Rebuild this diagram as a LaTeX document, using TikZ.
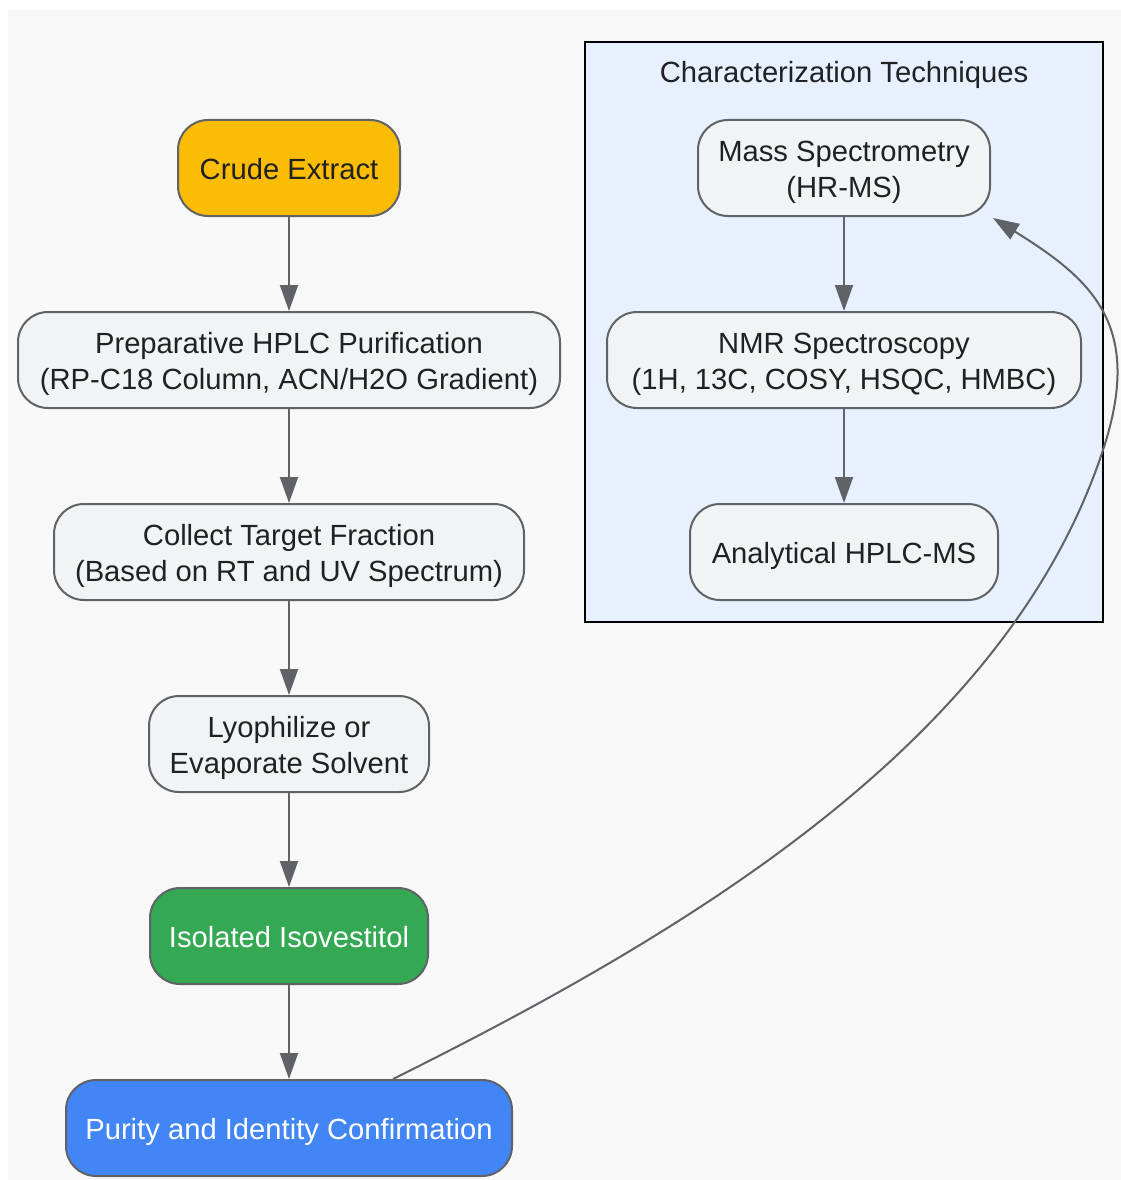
\documentclass[tikz,border=0pt]{standalone}
\usepackage{fontspec}
\setmainfont{Liberation Sans}
\usetikzlibrary{arrows.meta,calc}
\definecolor{bgc}{HTML}{F8F8F8}
\definecolor{edgec}{HTML}{5F6368}
\definecolor{boxc}{HTML}{F1F3F4}
\definecolor{txtc}{HTML}{202124}
\definecolor{yel}{HTML}{FBBC04}
\definecolor{grn}{HTML}{34A853}
\definecolor{blu}{HTML}{4285F4}
\definecolor{clc}{HTML}{E8F0FE}
\newcommand\ls{\rule[-6.4pt]{0pt}{35.4pt}}
\tikzset{
  lbl/.style={text=txtc, font=\fontsize{29.2}{36}\selectfont,
    execute at begin node={\ls}, execute at end node={\ls}},
  box/.style={lbl, draw=edgec, line width=2pt, fill=boxc, rounded corners=30pt,
    minimum height=96pt, inner sep=0pt, align=center},
  flow/.style={draw=edgec, line width=2pt, -{Triangle[length=26pt,width=18pt]}},
}
\begin{document}
\begin{tikzpicture}[x=1pt,y=-1pt]
\useasboundingbox (0,0) rectangle (1121,1180);
\fill[bgc] (8,10) rectangle (1121,1180);
% cluster
\node (cl) [draw=black, line width=2pt, fill=clc, minimum width=518pt, minimum height=580pt, inner sep=0pt] at (844,332) {};
\node (cltitle) [lbl, inner sep=0pt] at (844,71) {Characterization Techniques};
% left column
\node (ce) [box, fill=yel, minimum width=222pt] at (289,168) {Crude Extract};
\node (ph) [box, minimum width=542pt] at (289,360) {\ls Preparative HPLC Purification\\\ls (RP-C18 Column, ACN/H2O Gradient)};
\node (ct) [box, minimum width=470pt] at (289,552) {\ls Collect Target Fraction\\\ls (Based on RT and UV Spectrum)};
\node (ly) [box, minimum width=280pt] at (289,744) {\ls Lyophilize or\\\ls Evaporate Solvent};
\node (is) [box, fill=grn, text=white, minimum width=278pt] at (289,936) {Isolated Isovestitol};
\node (pu) [box, fill=blu, text=white, minimum width=446pt] at (289,1128) {Purity and Identity Confirmation};
% right column
\node (ms) [box, minimum width=292pt] at (844,168) {\ls Mass Spectrometry\\\ls (HR-MS)};
\node (nmr) [box, minimum width=474pt] at (844,360) {\ls NMR Spectroscopy\\\ls (1H, 13C, COSY, HSQC, HMBC)};
\node (an) [box, minimum width=308pt] at (844,552) {Analytical HPLC-MS};
% edges
\draw[flow] (ce) -- (ph);
\draw[flow] (ph) -- (ct);
\draw[flow] (ct) -- (ly);
\draw[flow] (ly) -- (is);
\draw[flow] (is) -- (pu);
\draw[flow] (ms) -- (nmr);
\draw[flow] (nmr) -- (an);
\coordinate (cs) at ($(pu.north)+(104,0)$);
\coordinate (ce2) at ($(ms.south east)+(2,1)$);
\draw[flow] (cs)
  .. controls (705.9,923.6) and (1009.1,735) .. (1103,450)
  .. controls (1143.7,326.5) and (1094,280.6) .. (ce2);
\end{tikzpicture}
\end{document}
